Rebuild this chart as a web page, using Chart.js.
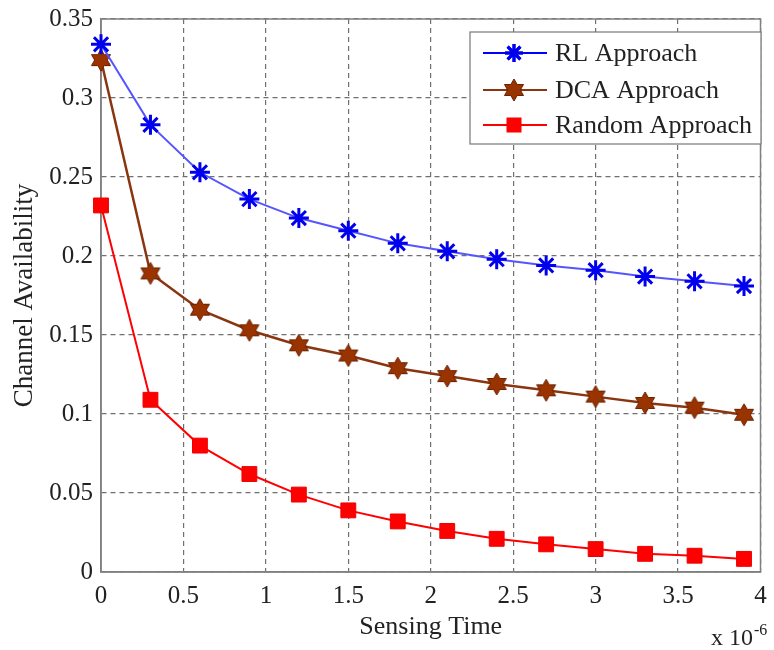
<!DOCTYPE html>
<html><head><meta charset="utf-8">
<script src="https://cdn.jsdelivr.net/npm/chart.js@4/dist/chart.umd.min.js"></script>
<style>html,body{margin:0;padding:0;background:#fff}</style>
</head><body>
<canvas id="c" width="774" height="650"></canvas>
<script>
const sensingTime = [0, 0.3, 0.6, 0.9, 1.2, 1.5, 1.8, 2.1, 2.4, 2.7, 3.0, 3.3, 3.6, 3.9];
const rlApproach = [0.334, 0.283, 0.253, 0.236, 0.224, 0.216, 0.208, 0.203, 0.198, 0.194, 0.191, 0.187, 0.184, 0.181];
const dcaApproach = [0.324, 0.189, 0.166, 0.153, 0.1435, 0.137, 0.129, 0.124, 0.119, 0.115, 0.111, 0.107, 0.104, 0.0995];
const randomApproach = [0.232, 0.109, 0.080, 0.062, 0.049, 0.039, 0.032, 0.026, 0.021, 0.0175, 0.0145, 0.0115, 0.0103, 0.0083];
const seriesNames = ['RL Approach', 'DCA Approach', 'Random Approach'];
const xTickStep = 0.5, xMin = 0, xMax = 4;
const yTickStep = 0.05, yMin = 0, yMax = 0.35;
const xAxisTitle = 'Sensing Time';
const yAxisTitle = 'Channel Availability';
const xExponent = '-6';

const FONT = '"Liberation Serif", "Times New Roman", serif';
const TXT = '#222';

function hexagram(fill, stroke, size) {
  const cv = document.createElement('canvas');
  cv.width = size; cv.height = size;
  const g = cv.getContext('2d');
  const c = size / 2, R = size / 2 - 1;
  g.beginPath();
  for (let k = 0; k < 12; k++) {
    const ang = -Math.PI / 2 + k * Math.PI / 6;
    const r = (k % 2 === 0) ? R : R * 0.577;
    const px = c + r * Math.cos(ang), py = c + r * Math.sin(ang);
    if (k === 0) g.moveTo(px, py); else g.lineTo(px, py);
  }
  g.closePath();
  g.fillStyle = fill; g.fill();
  g.lineWidth = 1; g.strokeStyle = stroke; g.stroke();
  return cv;
}
const hexImg = hexagram('#993300', '#6a2200', 24);

const toPts = arr => sensingTime.map((x, i) => ({x, y: arr[i]}));

const datasets = [
  {label: seriesNames[0], data: toPts(rlApproach), borderColor: '#5555ff', backgroundColor: '#0000ff',
   borderWidth: 2, pointStyle: 'star', pointRadius: 10, pointBorderWidth: 3, pointBorderColor: '#0000ee',
   tension: 0, clip: false, markerKind: 'star', lineCol: '#0000ff'},
  {label: seriesNames[1], data: toPts(dcaApproach), borderColor: '#8b3510', backgroundColor: '#993300',
   borderWidth: 2.5, pointStyle: hexImg, pointRadius: 11, tension: 0, clip: false, markerKind: 'hex', lineCol: '#8b3510'},
  {label: seriesNames[2], data: toPts(randomApproach), borderColor: '#ff0000', backgroundColor: '#ff0000',
   borderWidth: 2, pointStyle: 'rect', pointRadius: 10.5, pointBorderWidth: 1, pointBorderColor: '#ee0000',
   tension: 0, clip: false, markerKind: 'rect', lineCol: '#ff0000'}
];

const framePlugin = {
  id: 'frame',
  beforeDatasetsDraw(chart) {
    const {ctx, chartArea: a} = chart;
    ctx.save();
    ctx.strokeStyle = '#808080';
    ctx.lineWidth = 1.5;
    ctx.strokeRect(a.left, a.top, a.right - a.left, a.bottom - a.top);
    ctx.restore();
  },
  afterDatasetsDraw(chart) {
    const {ctx} = chart;
    ctx.save();
    const bx = 470, by = 32, bw = 291, bh = 112;
    ctx.fillStyle = '#fff';
    ctx.fillRect(bx, by, bw, bh);
    ctx.strokeStyle = '#777';
    ctx.lineWidth = 1.2;
    ctx.strokeRect(bx, by, bw, bh);
    const rows = [53, 90, 125];
    ctx.font = '26px ' + FONT;
    ctx.textBaseline = 'middle';
    chart.data.datasets.forEach((ds, i) => {
      const y = rows[i];
      ctx.strokeStyle = ds.lineCol;
      ctx.lineWidth = 2;
      ctx.beginPath(); ctx.moveTo(483, y); ctx.lineTo(547, y); ctx.stroke();
      if (ds.markerKind === 'star') {
        ctx.strokeStyle = '#0000ee'; ctx.lineWidth = 3;
        Chart.helpers.drawPoint(ctx, {pointStyle: 'star', radius: 9, rotation: 0, borderWidth: 3}, 514, y);
        ctx.stroke();
      } else if (ds.markerKind === 'hex') {
        ctx.drawImage(hexImg, 514 - 12, y - 12);
      } else {
        ctx.fillStyle = '#ff0000';
        ctx.fillRect(514 - 7.5, y - 7.5, 15, 15);
      }
      ctx.fillStyle = TXT;
      ctx.textAlign = 'left';
      ctx.fillText(ds.label, 555, y + 1);
    });
    ctx.font = '24px ' + FONT;
    ctx.fillStyle = TXT;
    ctx.textBaseline = 'alphabetic';
    ctx.textAlign = 'left';
    ctx.fillText('x 10', 711, 645);
    ctx.font = '16px ' + FONT;
    ctx.fillText(xExponent, 754, 635);
    ctx.restore();
  }
};

new Chart(document.getElementById('c'), {
  type: 'line',
  data: {datasets},
  options: {
    responsive: false,
    animation: false,
    events: [],
    layout: {padding: {top: 19, right: 6, left: 0, bottom: 0}},
    plugins: {legend: {display: false}, tooltip: {enabled: false}},
    scales: {
      x: {
        type: 'linear', min: xMin, max: xMax,
        afterFit(s) { s.height = 78; s.paddingLeft = 0; s.paddingRight = 0; s.paddingTop = 0; s.paddingBottom = 0; },
        ticks: {stepSize: xTickStep, color: TXT, padding: 9, maxRotation: 0,
          font: {family: FONT, size: 25},
          callback: v => String(parseFloat(v.toFixed(2)))},
        grid: {color: '#707070', lineWidth: 1.2, drawTicks: false},
        border: {display: true, color: '#808080', width: 1.5, dash: [5, 4]},
        title: {display: true, text: xAxisTitle, color: TXT, font: {family: FONT, size: 26}, padding: {top: 0, bottom: 7}}
      },
      y: {
        min: yMin, max: yMax,
        afterFit(s) { s.width = 101; s.paddingTop = 0; s.paddingBottom = 0; s.paddingLeft = 0; s.paddingRight = 0; },
        ticks: {stepSize: yTickStep, color: TXT, padding: 8,
          font: {family: FONT, size: 25},
          callback: v => String(parseFloat(v.toFixed(2)))},
        grid: {color: '#707070', lineWidth: 1.2, drawTicks: false},
        border: {display: true, color: '#808080', width: 1.5, dash: [5, 4]},
        title: {display: true, text: yAxisTitle, color: TXT, font: {family: FONT, size: 27}, padding: {top: 9, bottom: 0}}
      }
    }
  },
  plugins: [framePlugin]
});
</script>
</body></html>
